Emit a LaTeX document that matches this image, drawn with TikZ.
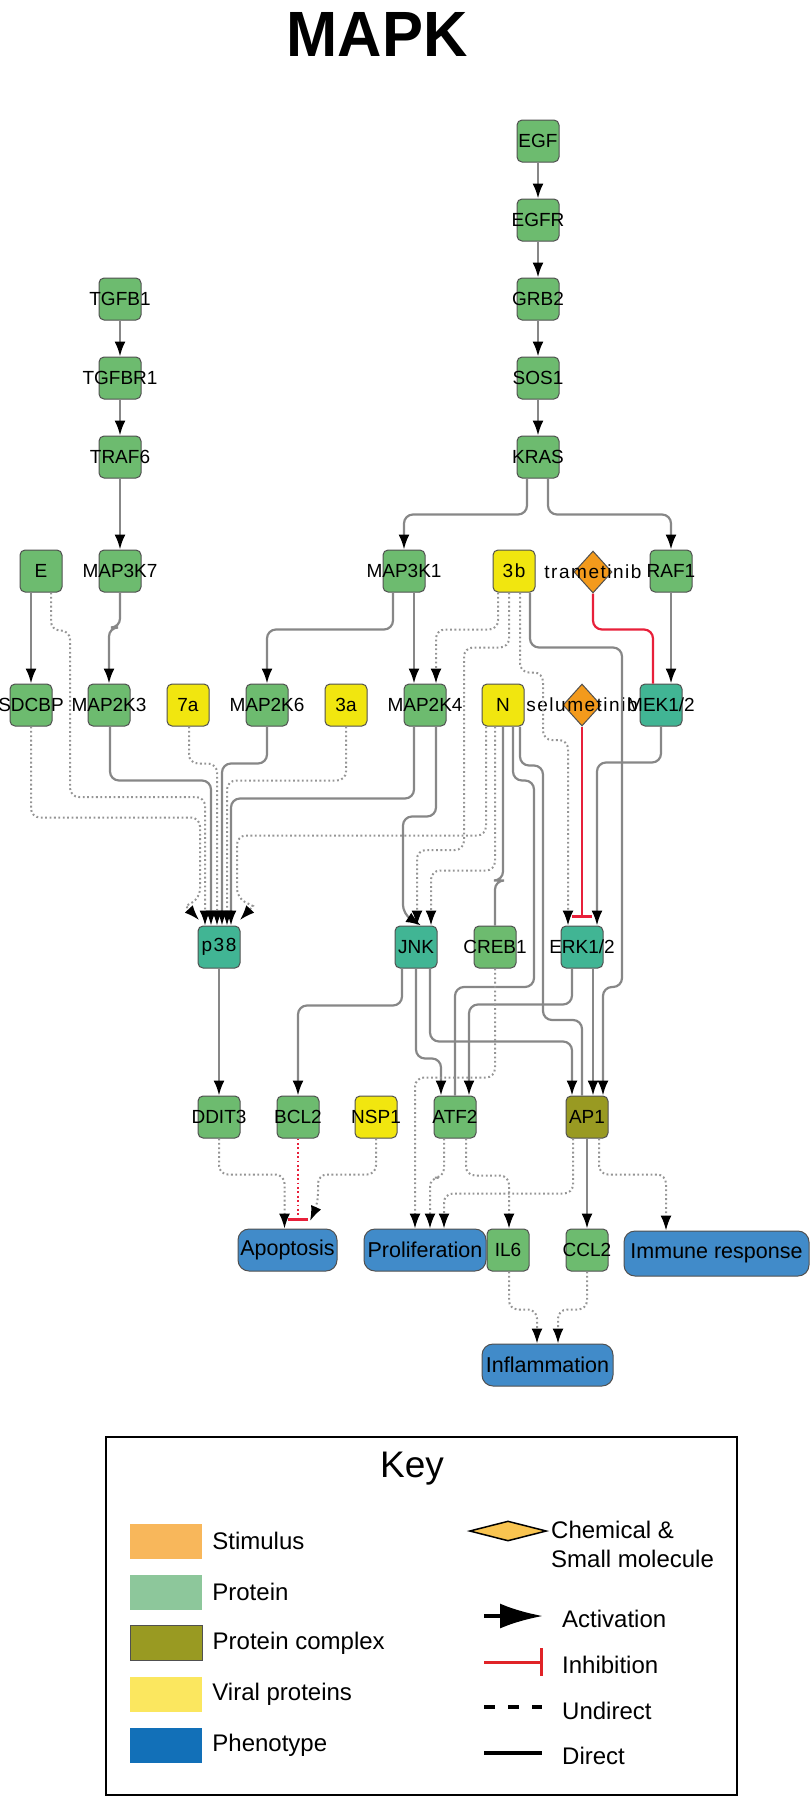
\documentclass[tikz,border=0pt]{standalone}
\usepackage{fontspec}
\setmainfont{Liberation Sans}
\newfontfamily\spacedfont[LetterSpace=8]{Liberation Sans}
\usetikzlibrary{positioning, arrows.meta, shapes.geometric}

\definecolor{protgreen}{HTML}{6DBB6F}
\definecolor{kinteal}{HTML}{41B594}
\definecolor{viralyellow}{HTML}{F1E60F}
\definecolor{cplxolive}{HTML}{999A22}
\definecolor{drugorange}{HTML}{F39A1C}
\definecolor{phenoblue}{HTML}{418BC9}
\definecolor{nodeline}{HTML}{505050}
\definecolor{edgegray}{HTML}{878787}
\definecolor{dotgray}{HTML}{959595}
\definecolor{inhred}{HTML}{E8203A}
\definecolor{keyorange}{HTML}{F8B75B}
\definecolor{keygreen}{HTML}{8DC79B}
\definecolor{keyyellow}{HTML}{FBE75F}
\definecolor{keyblue}{HTML}{1270B8}
\definecolor{keydiamond}{HTML}{F9C450}
\definecolor{keyred}{HTML}{E02328}

\newcommand{\nodefont}{\fontsize{19}{20}\selectfont}
\newcommand{\spacednodefont}{\spacedfont\fontsize{19}{20}\selectfont}
\newcommand{\phenofont}{\fontsize{21.5}{22}\selectfont}
\newcommand{\keyfont}{\fontsize{24}{29}\selectfont}
\newcommand{\titlefont}{\fontsize{64}{64}\selectfont\bfseries}

\tikzset{
  box/.style={rectangle, draw=nodeline, line width=1pt, rounded corners=5pt,
    minimum width=42pt, minimum height=42pt, inner sep=0pt, font=\nodefont,
    execute at begin node={\hbox to 0pt\bgroup\hss},
    execute at end node={\hss\egroup}},
  prot/.style={box, fill=protgreen},
  kin/.style={box, fill=kinteal},
  viral/.style={box, fill=viralyellow},
  cplx/.style={box, fill=cplxolive},
  drug/.style={diamond, draw=nodeline, line width=1pt, fill=drugorange,
    minimum width=38pt, minimum height=42pt, inner sep=0pt},
  pheno/.style={box, fill=phenoblue, rounded corners=11pt, font=\phenofont},
  act/.style={draw=edgegray, line width=2.2pt, rounded corners=9pt,
    -{Latex[length=15pt,width=11pt,color=black]}},
  bind/.style={draw=edgegray, line width=2.2pt, rounded corners=9pt},
  und/.style={act, draw=dotgray, line width=2pt, dash pattern=on 1.8pt off 2.6pt},
  inh/.style={draw=inhred, line width=2.2pt, rounded corners=9pt,
    -{Bar[width=20pt,line width=2.5pt]}},
  swatch/.style={rectangle, minimum width=72pt, minimum height=35pt, inner sep=0pt},
  keytext/.style={anchor=west, font=\keyfont, inner sep=0pt}
}

\begin{document}
\begin{tikzpicture}[x=1pt, y=-1pt, node distance=79pt]
\useasboundingbox (0,0) rectangle (811,1797);
\node[font=\titlefont, xscale=0.96] (title) at (377,34) {MAPK};

% EGF branch
\node[prot] (EGF) at (538,141) {EGF};
\node[prot, below of=EGF] (EGFR) {EGFR};
\node[prot, below of=EGFR] (GRB2) {GRB2};
\node[prot, below of=GRB2] (SOS1) {SOS1};
\node[prot, below of=SOS1] (KRAS) {KRAS};

% TGFB branch
\node[prot] (TGFB1) at (120,299) {TGFB1};
\node[prot, below of=TGFB1] (TGFBR1) {TGFBR1};
\node[prot, below of=TGFBR1] (TRAF6) {TRAF6};

\node[prot] (E) at (41,571) {E};
\node[prot] (MAP3K7) at (120,571) {MAP3K7};
\node[prot] (MAP3K1) at (404,571) {MAP3K1};
\node[viral, font=\spacednodefont] (v3b) at (514,571) {3b};
\node[drug] (tram) at (593,572) {};
\node[font=\spacednodefont] (tramlbl) at (tram) {trametinib};
\node[prot] (RAF1) at (671,571) {RAF1};

\node[prot] (SDCBP) at (31,705) {SDCBP};
\node[prot] (MAP2K3) at (109,705) {MAP2K3};
\node[viral] (v7a) at (188,705) {7a};
\node[prot] (MAP2K6) at (267,705) {MAP2K6};
\node[viral] (v3a) at (346,705) {3a};
\node[prot] (MAP2K4) at (425,705) {MAP2K4};
\node[viral] (vN) at (503,705) {N};
\node[drug] (selu) at (582,705) {};
\node[font=\spacednodefont] (selulbl) at (selu) {selumetinib};
\node[kin] (MEK) at (661,705) {MEK1/2};

\node[kin, font=\spacednodefont] (p38) at (219,947) {p38};
\node[kin] (JNK) at (416,947) {JNK};
\node[prot] (CREB1) at (495,947) {CREB1};
\node[kin] (ERK) at (582,947) {ERK1/2};

\node[prot] (DDIT3) at (219,1117) {DDIT3};
\node[prot] (BCL2) at (298,1117) {BCL2};
\node[viral] (NSP1) at (376,1117) {NSP1};
\node[prot] (ATF2) at (455,1117) {ATF2};
\node[cplx] (AP1) at (587,1117) {AP1};

\node[pheno, minimum width=99pt] (Apop) at (287.5,1250) {Apoptosis};
\node[pheno, minimum width=122pt] (Prolif) at (425,1250) {Proliferation};
\node[prot] (IL6) at (508,1250) {IL6};
\node[prot] (CCL2) at (587,1250) {CCL2};
\node[pheno, minimum width=185pt, minimum height=45pt] (Immune) at (716.5,1253.5) {Immune response};
\node[pheno, minimum width=131pt] (Infl) at (547.5,1365) {Inflammation};

% direct edges
\draw[act] (EGF) -- (EGFR);
\draw[act] (EGFR) -- (GRB2);
\draw[act] (GRB2) -- (SOS1);
\draw[act] (SOS1) -- (KRAS);
\draw[act] (TGFB1) -- (TGFBR1);
\draw[act] (TGFBR1) -- (TRAF6);
\draw[act] (TRAF6) -- (MAP3K7);
\draw[act] ([xshift=-11pt]KRAS.south) -- ++(0,36) -| (MAP3K1.north);
\draw[act] ([xshift=10pt]KRAS.south) -- ++(0,36) -| (RAF1.north);
\draw[act] ([xshift=-10pt]E.south) -- (SDCBP.north);
\draw[act] (MAP3K7.south) -- ++(0,35) -| (MAP2K3.north);
\draw[act] ([xshift=-11pt]MAP3K1.south) -- ++(0,37) -| (MAP2K6.north);
\draw[act] ([xshift=10pt]MAP3K1.south) -- ([xshift=-11pt]MAP2K4.north);
\draw[act] (RAF1.south) -- (RAF1.south |- MEK.north);
\draw[inh, -] (tram.south) -- ++(0,36) -| ([xshift=-8pt]MEK.north);
\draw[inh] (selu.south) -- ++(0,191);
\draw[act] (MEK.south) -- ++(0,36) -| ([xshift=15pt]ERK.north);
\draw[act] ([xshift=1pt]MAP2K3.south) -- ++(0,54) -| ([xshift=-8pt]p38.north);
\draw[act] (MAP2K6.south) -- ++(0,37) -| ([xshift=3pt]p38.north);
\draw[act] ([xshift=-11pt]MAP2K4.south) -- ++(0,72) -| ([xshift=12pt]p38.north);
\draw[act] ([xshift=11pt]MAP2K4.south) -- ++(0,90) -| (403,914) [sharp corners] -- ([xshift=5pt]JNK.north);
\draw[bind] (vN.south) -- ++(0,154) -| (CREB1.north);
\draw[bind] ([xshift=10pt]vN.south) -- ++(0,54) -| (534,987) -| (ATF2.north);
\draw[bind] ([xshift=17pt]vN.south) -- ++(0,39) -| (543,1020) -| ([xshift=-5pt]AP1.north);
\draw[act] ([xshift=16pt]v3b.south) -- ++(0,55) -| (622,987) -| ([xshift=16pt]AP1.north);
\draw[act] ([xshift=-10pt]ERK.south) -- ++(0,36) -| ([xshift=14pt]ATF2.north);
\draw[act] ([xshift=11pt]ERK.south) -- ([xshift=6pt]AP1.north);
\draw[act] (JNK.south) -- ++(0,90) -| ([xshift=-14pt]ATF2.north);
\draw[act] ([xshift=14pt]JNK.south) -- ++(0,73) -| ([xshift=-15pt]AP1.north);
\draw[act] ([xshift=-14pt]JNK.south) -- ++(0,37) -| (BCL2.north);
\draw[act] (p38) -- (DDIT3);
\draw[act] (AP1) -- (CCL2);

% undirect edges
\draw[und] ([xshift=10pt]E.south) -- ++(0,38) -| (70,797) -| ([xshift=-14pt]p38.north);
\draw[und] (SDCBP.south) -- ++(0,91) -| (200,898) [sharp corners] -- (186,906) -- (199,920);
\draw[und] ([xshift=1pt]v7a.south) -- ++(0,37) -| ([xshift=-2pt]p38.north);
\draw[und] (v3a.south) -- ++(0,54) -| ([xshift=8pt]p38.north);
\draw[und] ([xshift=-17pt]vN.south) -- ++(0,109) -| (237,898) [sharp corners] -- (253,906) -- (240,920);
\draw[und] ([xshift=-8pt]vN.south) -- ++(0,144) -| ([xshift=15pt]JNK.north);
\draw[und] ([xshift=-16pt]v3b.south) -- ++(0,37) -| ([xshift=11pt]MAP2K4.north);
\draw[und] ([xshift=-5pt]v3b.south) -- ++(0,55) -| (464,850) -| ([xshift=1pt]JNK.north);
\draw[und] ([xshift=6pt]v3b.south) -- ++(0,80) -| (543,740) -| ([xshift=-14pt]ERK.north);
\draw[und] (CREB1.south) -- ++(0,109) -| ([xshift=-10pt]Prolif.north);
\draw[und] (DDIT3.south) -- ++(0,36) -| ([xshift=-3pt]Apop.north);
\draw[inh, dash pattern=on 1.8pt off 2.6pt] (BCL2.south) -- ++(0,82);
\draw[und] (NSP1.south) -- ++(0,36) -| (318,1203) [sharp corners] -- (310,1221);
\draw[und] ([xshift=-11pt]ATF2.south) -- ++(0,39) -| ([xshift=5pt]Prolif.north);
\draw[und] ([xshift=-14pt]AP1.south) -- ++(0,55) -| ([xshift=19pt]Prolif.north);
\draw[und] ([xshift=11pt]ATF2.south) -- ++(0,37) -| ([xshift=1pt]IL6.north);
\draw[und] ([xshift=12pt]AP1.south) -- ++(0,36) -| ([xshift=-50.5pt]Immune.north);
\draw[und] ([xshift=1pt]IL6.south) -- ++(0,38) -| ([xshift=-10.5pt]Infl.north);
\draw[und] (CCL2.south) -- ++(0,38) -| ([xshift=10.5pt]Infl.north);

% key
\draw[line width=1.6pt] (106,1437) rectangle (737,1795);
\node[font=\fontsize{37}{37}\selectfont] (keytitle) at (412,1469) {Key};
\node[swatch, fill=keyorange] (swstim) at (166,1541) {};
\node[swatch, fill=keygreen] (swprot) at (166,1592) {};
\node[swatch, fill=cplxolive, draw=nodeline, line width=1pt] (swcplx) at (166,1643) {};
\node[swatch, fill=keyyellow] (swviral) at (166,1694) {};
\node[swatch, fill=keyblue] (swpheno) at (166,1745) {};
\node[keytext, right=10pt of swstim] (lstim) {Stimulus};
\node[keytext, right=10pt of swprot] (lprot) {Protein};
\node[keytext, right=10pt of swcplx] (lcplx) {Protein complex};
\node[keytext, right=10pt of swviral] (lviral) {Viral proteins};
\node[keytext, right=10pt of swpheno] (lpheno) {Phenotype};
\node[diamond, draw=black, line width=1.5pt, fill=keydiamond, minimum width=77pt, minimum height=20pt, inner sep=0pt] (kdrug) at (508,1531) {};
\node[keytext, anchor=north west, align=left] (ldrug) at (551,1521) {Chemical \&\\Small molecule};
\draw[line width=4pt, -{Latex[length=43pt,width=25pt]}] (484,1616) -- (543,1616);
\draw[keyred, line width=3pt, -{Bar[width=28pt,line width=3pt]}] (484,1662) -- (543,1662);
\draw[line width=4pt, dash pattern=on 11pt off 13pt] (484,1707) -- (542,1707);
\draw[line width=4pt] (484,1753) -- (542,1753);
\node[keytext] (lact) at (562,1619) {Activation};
\node[keytext] (linh) at (562,1665) {Inhibition};
\node[keytext] (lund) at (562,1711) {Undirect};
\node[keytext] (ldir) at (562,1756) {Direct};
\end{tikzpicture}
\end{document}
